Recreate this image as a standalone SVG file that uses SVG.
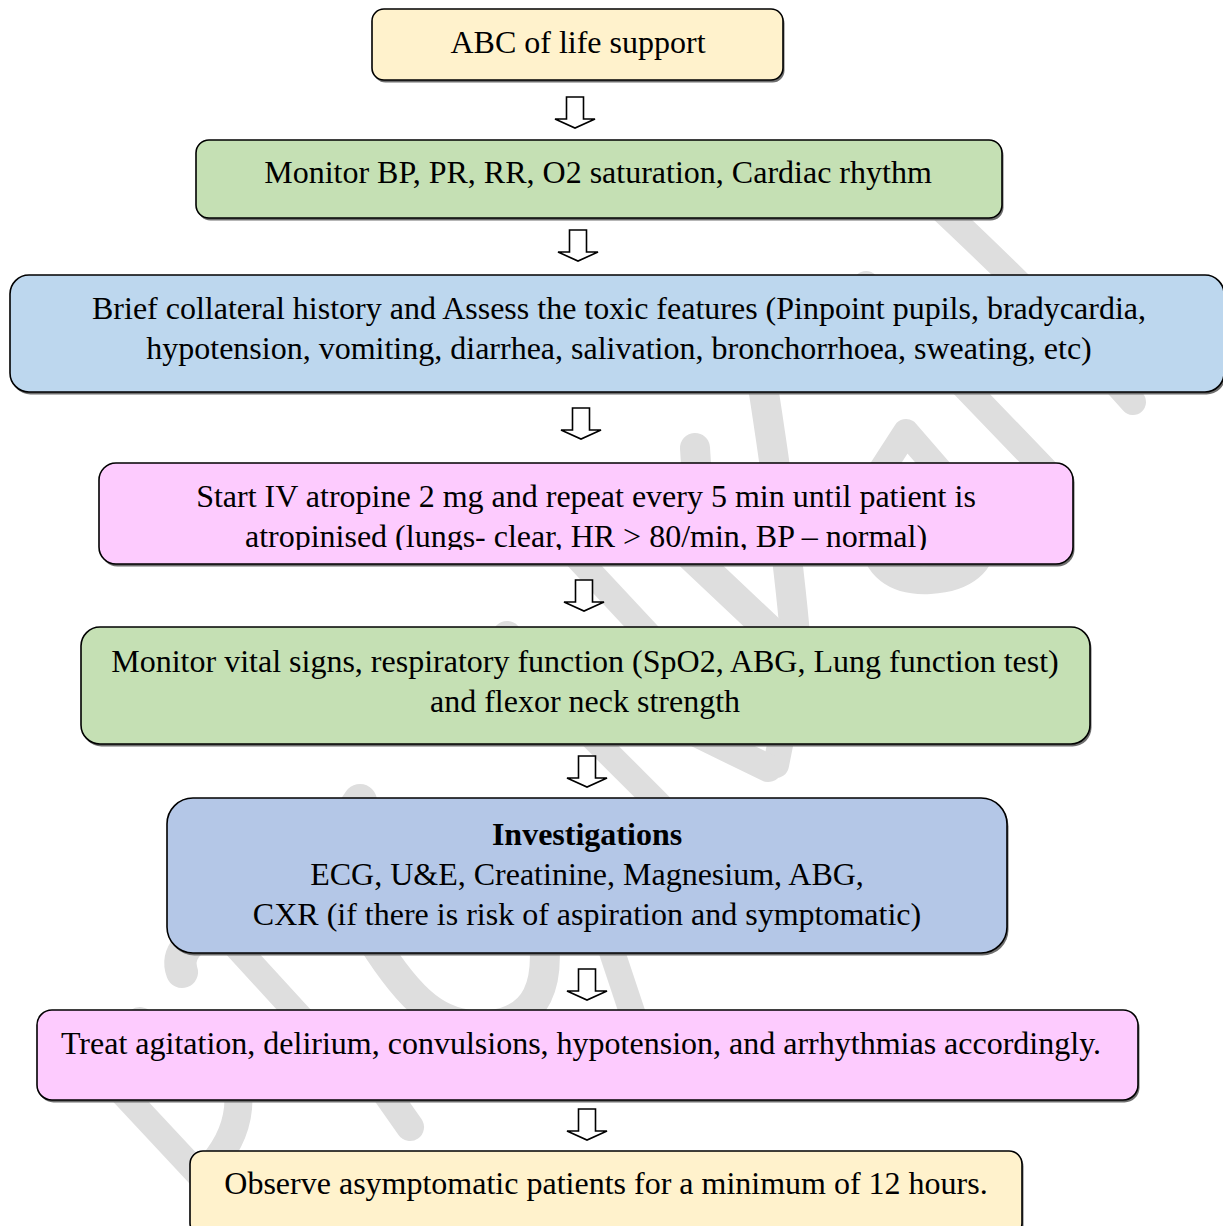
<svg xmlns="http://www.w3.org/2000/svg" width="1223" height="1226" viewBox="0 0 1223 1226">
<style>
.wm{fill:none;stroke:#dedede;stroke-linecap:round;stroke-linejoin:round}
.box{stroke:#000;stroke-width:1.6}
.sh{fill:#6e6e6e}
.t{font-family:"Liberation Serif","Times New Roman",serif;font-size:32px;fill:#000;text-anchor:middle}
.b{font-weight:bold}
.arr{fill:#fff;stroke:#000;stroke-width:1.6;stroke-linejoin:miter}
</style>
<defs>
<path id="darrow" d="M -8.5 0 L 8.5 0 L 8.5 22 L 20 22 L 0 31 L -20 22 L -8.5 22 Z"/>
<clipPath id="clipAtro"><rect x="99" y="463" width="974" height="87"/></clipPath>
</defs>
<rect width="1223" height="1226" fill="#fff"/>
<g id="watermark">
<path class="wm" stroke-width="26" d="M 932 200 Q 1060 320 1133 402"/>
<path class="wm" stroke-width="26" d="M 866 284 L 1045 470"/>
<path class="wm" stroke-width="26" d="M 862 500 L 906 432 L 965 500"/>
<path class="wm" stroke-width="28" d="M 872 535 Q 878 583 930 580 Q 982 577 984 535"/>
<path class="wm" stroke-width="30" d="M 762 380 Q 790 560 797 660"/>
<path class="wm" stroke-width="26" d="M 782 735 L 776 765"/>
<path class="wm" stroke-width="30" d="M 695 448 L 697 480"/>
<path class="wm" stroke-width="30" d="M 690 555 L 780 640"/>
<path class="wm" stroke-width="28" d="M 690 730 L 768 768"/>
<path class="wm" stroke-width="25" d="M 568 548 L 652 638"/>
<path class="wm" stroke-width="30" d="M 507 636 L 505 680"/>
<path class="wm" stroke-width="25" d="M 590 735 L 663 808"/>
<path class="wm" stroke-width="34" d="M 360 801 L 320 860"/>
<path class="wm" stroke-width="32" d="M 222 925 Q 172 945 182 972"/>
<path class="wm" stroke-width="25" d="M 230 940 L 305 1022"/>
<path class="wm" stroke-width="30" d="M 372 940 C 410 1000 440 1030 490 1025 C 540 1020 548 980 544 940"/>
<path class="wm" stroke-width="26" d="M 608 940 L 633 1015"/>
<path class="wm" stroke-width="30" d="M 140 1022 L 135 1060"/>
<path class="wm" stroke-width="26" d="M 118 1088 L 202 1178"/>
<path class="wm" stroke-width="28" d="M 238 1090 Q 242 1130 212 1165"/>
<path class="wm" stroke-width="28" d="M 384 1090 L 410 1127"/>
</g>
<g id="connectors">
<use href="#darrow" class="arr" transform="translate(575,97)"/>
<use href="#darrow" class="arr" transform="translate(578,230)"/>
<use href="#darrow" class="arr" transform="translate(581,408)"/>
<use href="#darrow" class="arr" transform="translate(584,580)"/>
<use href="#darrow" class="arr" transform="translate(587,756)"/>
<use href="#darrow" class="arr" transform="translate(587,969)"/>
<use href="#darrow" class="arr" transform="translate(587,1109)"/>
</g>
<g id="n1">
<rect class="sh" x="373.5" y="11.5" width="411" height="71" rx="12"/>
<rect class="box" x="372" y="9" width="411" height="71" rx="12" fill="#fff2cc"/>
<text class="t" x="578" y="53">ABC of life support</text>
</g>
<g id="n2">
<rect class="sh" x="197.5" y="142.5" width="806" height="78" rx="13"/>
<rect class="box" x="196" y="140" width="806" height="78" rx="13" fill="#c5e0b4"/>
<text class="t" x="598" y="183">Monitor BP, PR, RR, O2 saturation, Cardiac rhythm</text>
</g>
<g id="n3">
<rect class="sh" x="11.5" y="277.5" width="1214" height="117" rx="19"/>
<rect class="box" x="10" y="275" width="1214" height="117" rx="19" fill="#bdd7ee"/>
<text class="t" x="619" y="319">Brief collateral history and Assess the toxic features (Pinpoint pupils, bradycardia,</text>
<text class="t" x="619" y="359">hypotension, vomiting, diarrhea, salivation, bronchorrhoea, sweating, etc)</text>
</g>
<g id="n4">
<rect class="sh" x="100.5" y="465.5" width="974" height="101" rx="17"/>
<rect class="box" x="99" y="463" width="974" height="101" rx="17" fill="#fdcbfe"/>
<g clip-path="url(#clipAtro)">
<text class="t" x="586" y="507">Start IV atropine 2 mg and repeat every 5 min until patient is</text>
<text class="t" x="586" y="547">atropinised (lungs- clear, HR &gt; 80/min, BP – normal)</text>
</g>
</g>
<g id="n5">
<rect class="sh" x="82.5" y="629.5" width="1009" height="117" rx="19"/>
<rect class="box" x="81" y="627" width="1009" height="117" rx="19" fill="#c5e0b4"/>
<text class="t" x="585" y="672">Monitor vital signs, respiratory function (SpO2, ABG, Lung function test)</text>
<text class="t" x="585" y="712">and flexor neck strength</text>
</g>
<g id="n6">
<rect class="sh" x="168.5" y="800.5" width="840" height="155" rx="26"/>
<rect class="box" x="167" y="798" width="840" height="155" rx="26" fill="#b4c7e7"/>
<text class="t b" x="587" y="845">Investigations</text>
<text class="t" x="587" y="885">ECG, U&amp;E, Creatinine, Magnesium, ABG,</text>
<text class="t" x="587" y="925">CXR (if there is risk of aspiration and symptomatic)</text>
</g>
<g id="n7">
<rect class="sh" x="38.5" y="1012.5" width="1101" height="90" rx="15"/>
<rect class="box" x="37" y="1010" width="1101" height="90" rx="15" fill="#fdcbfe"/>
<text class="t" x="581" y="1054">Treat agitation, delirium, convulsions, hypotension, and arrhythmias accordingly.</text>
</g>
<g id="n8">
<rect class="sh" x="191.5" y="1153.5" width="832" height="85" rx="13"/>
<rect class="box" x="190" y="1151" width="832" height="85" rx="13" fill="#fff2cc"/>
<text class="t" x="606" y="1194">Observe asymptomatic patients for a minimum of 12 hours.</text>
</g>
</svg>
